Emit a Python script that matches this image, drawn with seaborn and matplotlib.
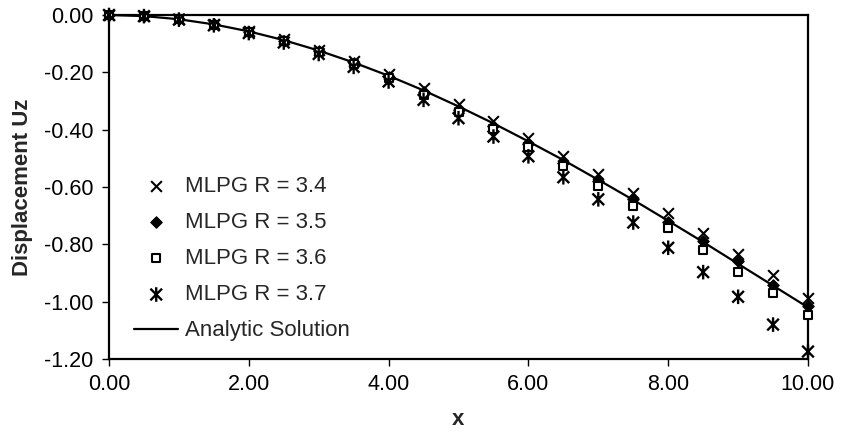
import numpy as np
import pandas as pd
import matplotlib
matplotlib.use("Agg")
import matplotlib.pyplot as plt
import seaborn as sns
from matplotlib.path import Path

# Datos
x_vals = [0.0, 0.5, 1.0, 1.5, 2.0, 2.5, 3.0, 3.5, 4.0, 4.5, 5.0,
          5.5, 6.0, 6.5, 7.0, 7.5, 8.0, 8.5, 9.0, 9.5, 10.0]
r34 = [0.0, -0.004, -0.014, -0.031, -0.055, -0.085, -0.121, -0.162, -0.205, -0.253, -0.311,
       -0.369, -0.428, -0.492, -0.556, -0.622, -0.692, -0.760, -0.832, -0.906, -0.987]
r35 = [0.0, -0.004, -0.015, -0.033, -0.058, -0.089, -0.126, -0.168, -0.215, -0.270, -0.330,
       -0.387, -0.451, -0.515, -0.579, -0.643, -0.723, -0.789, -0.859, -0.941, -1.016]
r36 = [0.0, -0.004, -0.015, -0.034, -0.059, -0.091, -0.129, -0.172, -0.221, -0.278, -0.340,
       -0.399, -0.462, -0.528, -0.598, -0.668, -0.742, -0.820, -0.897, -0.970, -1.045]
r37 = [0.0, -0.004, -0.016, -0.036, -0.063, -0.096, -0.136, -0.181, -0.232, -0.296, -0.360,
       -0.424, -0.493, -0.566, -0.643, -0.724, -0.812, -0.897, -0.983, -1.080, -1.174]
analytic = [0.0, -0.0038, -0.0148, -0.0327, -0.0571, -0.0877, -0.124, -0.1656, -0.212, -0.263, -0.319,
            -0.378, -0.441, -0.506, -0.575, -0.645, -0.718, -0.792, -0.868, -0.944, -1.02]

series_labels = ["MLPG R = 3.4", "MLPG R = 3.5", "MLPG R = 3.6", "MLPG R = 3.7"]
x_ticks = [0, 2, 4, 6, 8, 10]
y_ticks = [0.0, -0.2, -0.4, -0.6, -0.8, -1.0, -1.2]

sns.set_style("white")
plt.rcParams['font.family'] = ['Liberation Sans', 'DejaVu Sans']

# marcador tipo asterisco (X con barra vertical)
star = Path([(-1, -1), (1, 1), (-1, 1), (1, -1), (0, -1.25), (0, 1.25)],
            [Path.MOVETO, Path.LINETO, Path.MOVETO, Path.LINETO, Path.MOVETO, Path.LINETO])

fig = plt.figure(figsize=(8.42, 4.36), dpi=100)
ax = fig.add_axes([109 / 842, 1 - 359 / 436, (808 - 109) / 842, (359 - 15) / 436])

common = dict(ax=ax, clip_on=False, zorder=3)
sns.scatterplot(x=x_vals, y=r34, marker="x", s=60, color="black", linewidth=1.5,
                label=series_labels[0], **common)
sns.scatterplot(x=x_vals, y=r35, marker="D", s=34, color="black", edgecolor="black",
                linewidth=0.8, label=series_labels[1], **common)
sns.scatterplot(x=x_vals, y=r36, marker="s", s=38, facecolor="white", edgecolor="black",
                linewidth=1.5, label=series_labels[2], **common)
sns.scatterplot(x=x_vals, y=r37, marker=star, s=110, facecolor="none", edgecolor="black",
                linewidth=1.7, label=series_labels[3], **common)
sns.lineplot(x=x_vals, y=analytic, color="black", linewidth=1.6, label="Analytic Solution",
             ax=ax, zorder=2)

ax.set_xlim(0, 10)
ax.set_ylim(-1.2, 0.0)
ax.set_xticks(x_ticks)
ax.set_xticklabels([f"{v:.2f}" for v in x_ticks])
ax.set_yticks(y_ticks)
ax.set_yticklabels([f"{v:.2f}" for v in y_ticks])
ax.tick_params(direction="out", length=5, width=1, labelsize=15.5, colors="black", pad=6,
               left=True, bottom=True)
for sp in ax.spines.values():
    sp.set_visible(True)
    sp.set_color("black")
    sp.set_linewidth(1.6)

ax.set_xlabel("x", fontsize=16, fontweight="bold", labelpad=10)
ax.set_ylabel("Displacement Uz", fontsize=16, fontweight="bold", labelpad=8)

ax.legend(frameon=False, loc="upper left", bbox_to_anchor=(134 / 842, 1 - 176 / 436),
          bbox_transform=fig.transFigure, fontsize=16, borderpad=0, borderaxespad=0,
          handlelength=2.0, handletextpad=0.3, labelspacing=0.68)

fig.savefig("out.png", dpi=100)
